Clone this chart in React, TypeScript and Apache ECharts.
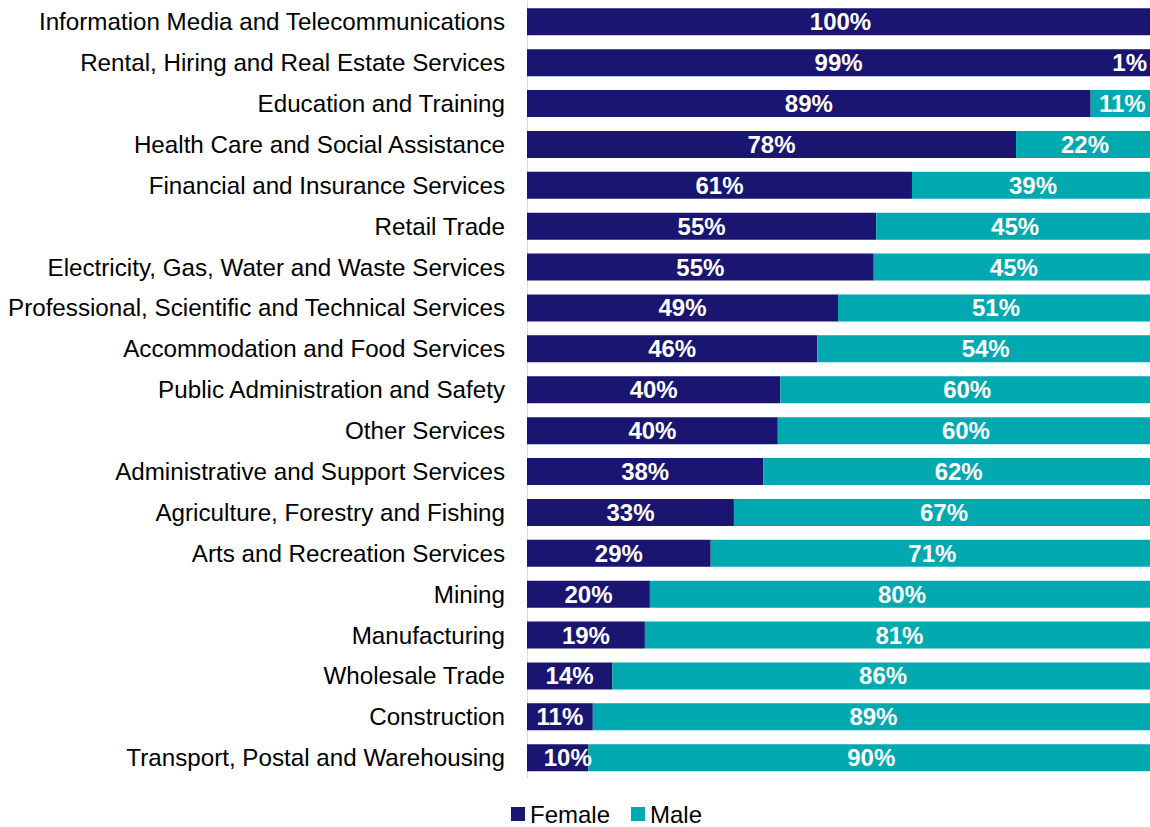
import React, { useEffect, useRef } from "react";
import * as echarts from "echarts";

const categories = [
  "Information Media and Telecommunications",
  "Rental, Hiring and Real Estate Services",
  "Education and Training",
  "Health Care and Social Assistance",
  "Financial and Insurance Services",
  "Retail Trade",
  "Electricity, Gas, Water and Waste Services",
  "Professional, Scientific and Technical Services",
  "Accommodation and Food Services",
  "Public Administration and Safety",
  "Other Services",
  "Administrative and Support Services",
  "Agriculture, Forestry and Fishing",
  "Arts and Recreation Services",
  "Mining",
  "Manufacturing",
  "Wholesale Trade",
  "Construction",
  "Transport, Postal and Warehousing",
];

// bar lengths (share of employees, %)
const femaleValues = [100, 99.4, 89.9, 78.0, 61.4, 55.7, 55.3, 49.6, 46.3, 40.4, 40.0, 37.7, 33.0, 29.3, 19.6, 18.8, 13.6, 10.5, 9.8];
const maleValues = [0, 0.6, 10.1, 22.0, 38.6, 44.3, 44.7, 50.4, 53.7, 59.6, 60.0, 62.3, 67.0, 70.7, 80.4, 81.2, 86.4, 89.5, 90.2];

// printed data labels
const femaleLabels = ["100%", "99%", "89%", "78%", "61%", "55%", "55%", "49%", "46%", "40%", "40%", "38%", "33%", "29%", "20%", "19%", "14%", "11%", "10%"];
const maleLabels = ["", "1%", "11%", "22%", "39%", "45%", "45%", "51%", "54%", "60%", "60%", "62%", "67%", "71%", "80%", "81%", "86%", "89%", "90%"];

const FONT = "'Liberation Sans', Arial, Helvetica, sans-serif";
const NAVY = "#1a1570";
const TEAL = "#00a9b0";

export default function App() {
  const ref = useRef<HTMLDivElement>(null);

  useEffect(() => {
    if (!ref.current) return;
    const chart = echarts.init(ref.current, undefined, { renderer: "svg" });

    const femaleData = femaleValues.map((v, i) => {
      const item: any = { value: v };
      if (i === categories.length - 1) item.label = { offset: [10, 0] };
      return item;
    });
    const maleData = maleValues.map((v, i) => {
      const item: any = { value: v };
      if (i === 1) item.label = { position: "insideRight", distance: 7 };
      return item;
    });

    const barLabel = (labels: string[]) => ({
      show: true,
      position: "inside",
      color: "#ffffff",
      fontFamily: FONT,
      fontSize: 24,
      fontWeight: "bold",
      formatter: (p: any) => labels[p.dataIndex],
    });

    chart.setOption({
      animation: false,
      textStyle: { fontFamily: FONT },
      grid: { left: 527, right: 0, top: 1.4, bottom: 48.9, containLabel: false },
      legend: {
        left: 511,
        top: 800,
        padding: 0,
        icon: "rect",
        itemWidth: 14,
        itemHeight: 14,
        itemGap: 21,
        textStyle: { fontFamily: FONT, fontSize: 24, color: "#000000", lineHeight: 28 },
        data: ["Female", "Male"],
      },
      xAxis: {
        type: "value",
        min: 0,
        max: 100,
        show: false,
      },
      yAxis: {
        type: "category",
        data: categories,
        inverse: true,
        axisTick: { show: false },
        axisLine: { show: true, lineStyle: { color: "#d9d9d9", width: 1 } },
        axisLabel: {
          margin: 22,
          fontFamily: FONT,
          fontSize: 24.2,
          color: "#000000",
        },
        splitLine: { show: false },
      },
      series: [
        {
          name: "Female",
          type: "bar",
          stack: "total",
          barWidth: 27,
          itemStyle: { color: NAVY },
          label: barLabel(femaleLabels),
          data: femaleData,
        },
        {
          name: "Male",
          type: "bar",
          stack: "total",
          barWidth: 27,
          itemStyle: { color: TEAL },
          label: barLabel(maleLabels),
          data: maleData,
        },
      ],
    });

    return () => chart.dispose();
  }, []);

  return (
    <div
      style={{
        position: "fixed",
        left: 0,
        top: 0,
        width: 1150,
        height: 827,
        overflow: "hidden",
        background: "#ffffff",
      }}
    >
      <div ref={ref} style={{ width: 1154, height: 827 }} />
    </div>
  );
}
